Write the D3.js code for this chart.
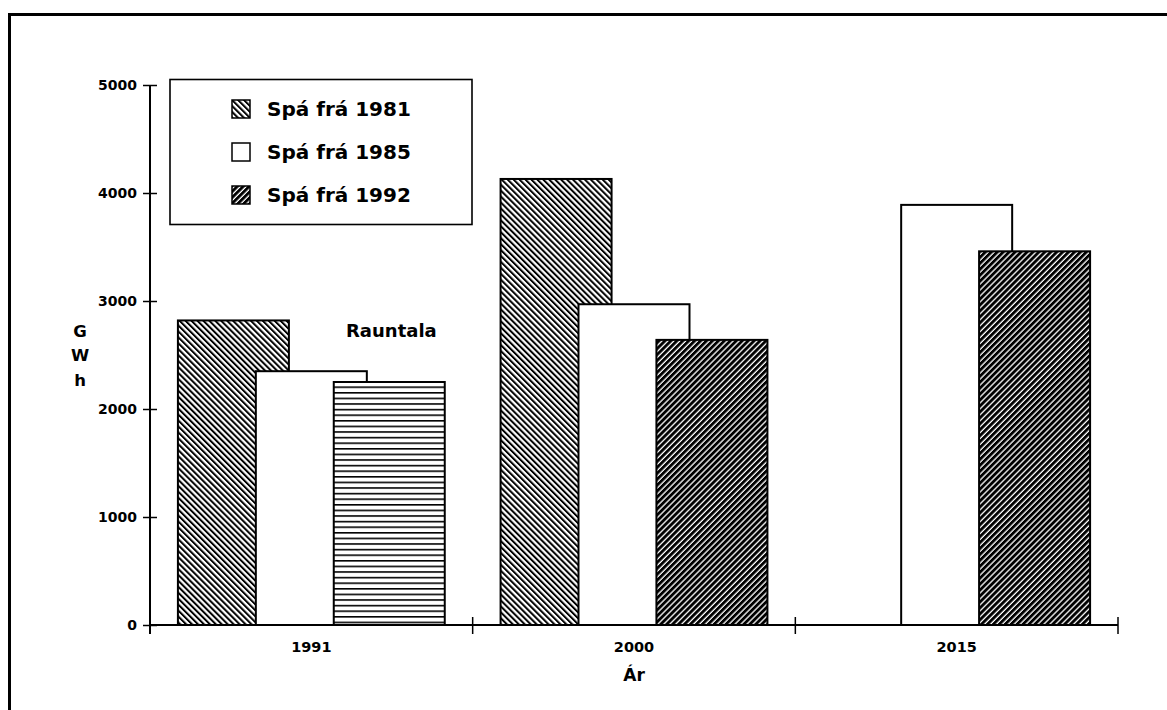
<!DOCTYPE html>
<html>
<head>
<meta charset="utf-8">
<script src="https://cdn.jsdelivr.net/npm/d3@7"></script>
<style>
  html, body { margin: 0; padding: 0; background: #fff; }
  svg { display: block; }
  text { font-family: "DejaVu Sans", sans-serif; font-weight: bold; fill: #000; }
</style>
</head>
<body>
<svg id="chart" width="1167" height="710"></svg>
<script>
// ---- data ----
const categories = ["1991", "2000", "2015"];
const spa1981 = [2820, 4130, null];
const spa1985 = [2350, 2970, 3890];
const spa1992 = [null, 2640, 3460];
const rauntala = [2250, null, null];   // actual value, drawn in the 3rd slot
const yTicks = [0, 1000, 2000, 3000, 4000, 5000];
const legendLabels = ["Spá frá 1981", "Spá frá 1985", "Spá frá 1992"];
const yTitle = ["G", "W", "h"];
const xTitle = "Ár";
const rauntalaLabel = "Rauntala";

(function () {
  // ---- layout ----
  const svg = d3.select("#chart");
  const W = 1167, H = 710;
  const mLeft = 150, mRight = 1118, mTop = 85, mBottom = 625;

  const defs = svg.append("defs");
  function diag(id, angle, period, ink) {
    const p = defs.append("pattern").attr("id", id)
      .attr("patternUnits", "userSpaceOnUse")
      .attr("width", period).attr("height", period)
      .attr("patternTransform", `rotate(${angle})`);
    p.append("rect").attr("width", period).attr("height", period).attr("fill", "#fff");
    p.append("rect").attr("x", 0).attr("y", 0).attr("width", ink).attr("height", period).attr("fill", "#000");
  }
  diag("p1981", -45, 4.2, 2.0);
  diag("p1992", 45, 4.2, 2.9);
  const ph = defs.append("pattern").attr("id", "pH")
    .attr("patternUnits", "userSpaceOnUse").attr("width", 10).attr("height", 5.6);
  ph.append("rect").attr("width", 10).attr("height", 5.6).attr("fill", "#fff");
  ph.append("rect").attr("y", 0).attr("width", 10).attr("height", 1.6).attr("fill", "#000");

  // frame
  svg.append("path")
    .attr("d", `M${W + 5},14.5 L9.5,14.5 L9.5,${H + 5}`)
    .attr("fill", "none").attr("stroke", "#000").attr("stroke-width", 3);

  const x = d3.scaleBand().domain(categories).range([mLeft, mRight]).padding(0);
  const bw = x.bandwidth();
  const slot = d3.scalePoint().domain([0, 1, 2]).range([bw * 0.2585, bw * 0.7415]);
  const barW = bw * 0.344;
  const y = d3.scaleLinear().domain([0, 5000]).range([mBottom, mTop]);

  // bars
  const series = [
    { vals: spa1981, fill: "url(#p1981)", slot: 0 },
    { vals: spa1985, fill: "#fff", slot: 1 },
    { vals: spa1992, fill: "url(#p1992)", slot: 2 },
    { vals: rauntala, fill: "url(#pH)", slot: 2 }
  ];
  const barsG = svg.append("g");
  categories.forEach((c, ci) => {
    series.forEach(s => {
      const v = s.vals[ci];
      if (v == null) return;
      const cx = x(c) + slot(s.slot);
      barsG.append("rect")
        .attr("x", cx - barW / 2).attr("y", y(v))
        .attr("width", barW).attr("height", y(0) - y(v))
        .attr("fill", s.fill).attr("stroke", "#000").attr("stroke-width", 2);
    });
  });

  // y axis
  const yAxis = svg.append("g").attr("transform", `translate(${mLeft},0)`)
    .call(d3.axisLeft(y).tickValues(yTicks).tickSize(7).tickPadding(6).tickFormat(d3.format("d")));
  yAxis.select(".domain").remove();
  yAxis.selectAll(".tick line").attr("x1", -7).attr("x2", 7).attr("stroke", "#000").attr("stroke-width", 1.5);
  yAxis.selectAll(".tick text").attr("font-size", 14).attr("font-family", "DejaVu Sans").attr("font-weight", "bold").attr("x", -13);
  svg.append("line").attr("x1", mLeft).attr("x2", mLeft).attr("y1", mTop).attr("y2", mBottom + 9)
    .attr("stroke", "#000").attr("stroke-width", 2);

  // x axis
  svg.append("line").attr("x1", mLeft).attr("x2", mRight).attr("y1", mBottom).attr("y2", mBottom)
    .attr("stroke", "#000").attr("stroke-width", 2);
  const bounds = categories.map(c => x(c) + bw);
  svg.append("g").selectAll("line").data(bounds).join("line")
    .attr("x1", d => d).attr("x2", d => d).attr("y1", mBottom - 8).attr("y2", mBottom + 9)
    .attr("stroke", "#000").attr("stroke-width", 1.5);
  svg.append("g").selectAll("text").data(categories).join("text")
    .attr("x", d => x(d) + bw / 2).attr("y", 652)
    .attr("text-anchor", "middle").attr("font-size", 14.5).text(d => d);

  // axis titles
  svg.append("text").attr("x", x(categories[1]) + bw / 2).attr("y", 681)
    .attr("text-anchor", "middle").attr("font-size", 17).text(xTitle);
  svg.append("g").selectAll("text").data(yTitle).join("text")
    .attr("x", 80).attr("y", (d, i) => [337, 361, 386][i])
    .attr("text-anchor", "middle").attr("font-size", 16.5).text(d => d);

  // Rauntala label
  svg.append("text").attr("x", 346).attr("y", 337).attr("font-size", 18).text(rauntalaLabel);

  // legend
  const lg = svg.append("g");
  lg.append("rect").attr("x", 170).attr("y", 79.5).attr("width", 302).attr("height", 145)
    .attr("fill", "#fff").attr("stroke", "#000").attr("stroke-width", 1.6);
  const legFills = ["url(#p1981)", "#fff", "url(#p1992)"];
  const rowY = [109, 152, 195];
  legendLabels.forEach((t, i) => {
    lg.append("rect").attr("x", 232).attr("y", rowY[i] - 9).attr("width", 18).attr("height", 18)
      .attr("fill", legFills[i]).attr("stroke", "#000").attr("stroke-width", 1.5);
    lg.append("text").attr("x", 267).attr("y", rowY[i] + 7).attr("font-size", 20).text(t);
  });
})();
</script>
</body>
</html>
